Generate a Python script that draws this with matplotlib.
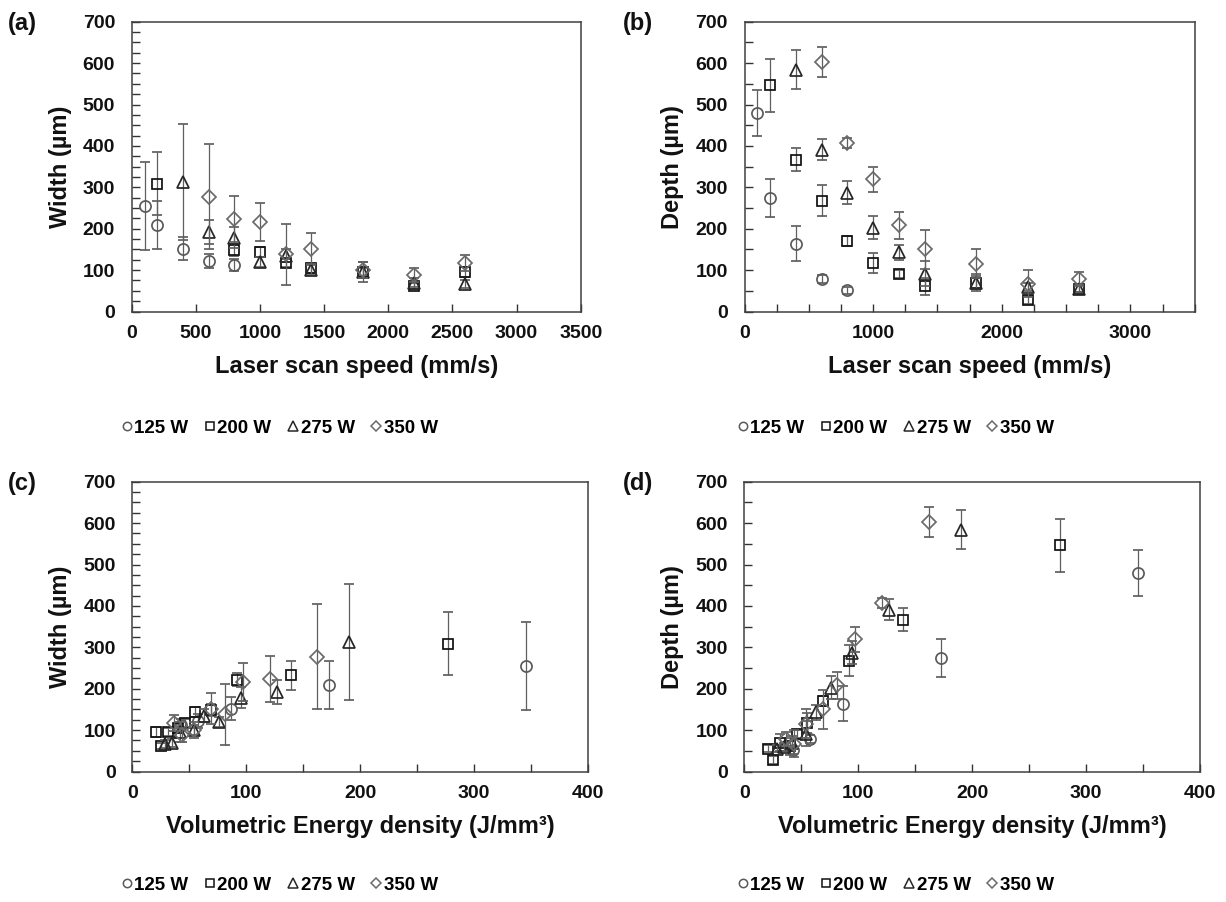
import numpy as np
import matplotlib
matplotlib.use('Agg')
import matplotlib.pyplot as plt
from matplotlib.ticker import MultipleLocator, NullLocator
from matplotlib.lines import Line2D
from matplotlib import font_manager

plt.rcParams['font.family'] = ['Liberation Sans', 'DejaVu Sans']
plt.rcParams['font.weight'] = 'bold'

# laser power series
powers = ['125 W', '200 W', '275 W', '350 W']

speed_125 = [100, 200, 400, 600, 800]
energy_125 = [346, 173, 87, 58, 43]
width_125 = [255, 210, 152, 121, 113]
width_err_125 = [107, 58, 27, 17, 14]
depth_125 = [480, 275, 164, 78, 51]
depth_err_125 = [55, 46, 42, 10, 8]

speed_200 = [200, 400, 600, 800, 1000, 1200, 1400, 1800, 2200, 2600]
energy_200 = [277, 139, 92, 69, 55, 46, 40, 31, 25, 21]
width_200 = [309, 232, 222, 148, 144, 117, 104, 95, 62, 95]
width_err_200 = [77, 35, 15, 15, 12, 10, 10, 10, 8, 12]
depth_200 = [546, 367, 268, 170, 117, 91, 61, 70, 27, 55]
depth_err_200 = [64, 27, 38, 12, 25, 10, 20, 20, 10, 8]
# the two 200 W points that are not shown in panel (a)
missing_in_a_200 = [400, 600]

speed_275 = [400, 600, 800, 1000, 1200, 1400, 1800, 2200, 2600]
energy_275 = [190, 127, 95, 76, 63, 54, 42, 35, 29]
width_275 = [313, 192, 178, 119, 135, 100, 95, 70, 67]
width_err_275 = [140, 30, 25, 12, 15, 12, 24, 10, 10]
depth_275 = [584, 391, 287, 202, 143, 91, 70, 59, 55]
depth_err_275 = [47, 25, 28, 28, 18, 30, 15, 10, 8]

speed_350 = [600, 800, 1000, 1200, 1400, 1800, 2200, 2600]
energy_350 = [162, 121, 97, 81, 69, 54, 44, 37]
width_350 = [277, 223, 216, 138, 152, 100, 88, 117]
width_err_350 = [127, 56, 46, 74, 37, 20, 17, 19]
depth_350 = [603, 408, 319, 208, 150, 115, 67, 79]
depth_err_350 = [36, 12, 31, 32, 47, 35, 33, 17]

series = [
    (speed_125, energy_125, width_125, width_err_125, depth_125, depth_err_125, []),
    (speed_200, energy_200, width_200, width_err_200, depth_200, depth_err_200, missing_in_a_200),
    (speed_275, energy_275, width_275, width_err_275, depth_275, depth_err_275, []),
    (speed_350, energy_350, width_350, width_err_350, depth_350, depth_err_350, []),
]

markers = ['o', 's', '^', 'D']
edge_colors = ['#5a5a5a', '#111111', '#262626', '#6a6a6a']
marker_sizes = [8.0, 7.8, 8.8, 6.8]
err_color = '#5f5f5f'

names = {f.name for f in font_manager.fontManager.ttflist}
if 'Liberation Sans Narrow' in names:
    leg_font = dict(family='Liberation Sans Narrow', weight='bold', size=15.5)
else:
    leg_font = dict(family='Liberation Sans', weight='bold', size=13.5)

W, H = 1226, 902
fig = plt.figure(figsize=(W / 100, H / 100), dpi=100)


def add_axes_px(left, top, right, bottom):
    return fig.add_axes([left / W, 1 - bottom / H, (right - left) / W, (bottom - top) / H])


def style_axes(ax, xmax, xmajor, xminor, yminor):
    ax.set_xlim(0, xmax)
    ax.set_ylim(0, 700)
    ax.xaxis.set_major_locator(MultipleLocator(xmajor))
    if xminor:
        ax.xaxis.set_minor_locator(MultipleLocator(xminor))
    else:
        ax.xaxis.set_minor_locator(NullLocator())
    ax.yaxis.set_major_locator(MultipleLocator(100))
    ax.yaxis.set_minor_locator(MultipleLocator(yminor))
    ax.tick_params(which='both', direction='in', length=5.5, width=1.0, color='#333333',
                   top=False, right=False)
    ax.tick_params(axis='y', labelsize=14, pad=12, labelcolor='#111111')
    ax.tick_params(axis='x', labelsize=14, pad=10, labelcolor='#111111')
    for sp in ax.spines.values():
        sp.set_color('#404040')
        sp.set_linewidth(1.1)


def draw(ax, xi, yi, ei, panel_a=False):
    for k, s in enumerate(series):
        x = np.array(s[xi], dtype=float)
        y = np.array(s[yi], dtype=float)
        e = np.array(s[ei], dtype=float)
        keep = np.array([sp not in s[6] for sp in s[0]]) if panel_a else np.ones(len(x), bool)
        ax.errorbar(x[keep], y[keep], yerr=e[keep], fmt=markers[k], ms=marker_sizes[k],
                    mfc='none', mec=edge_colors[k], mew=1.25, ecolor=err_color,
                    elinewidth=0.9, capsize=3.6, capthick=0.9, zorder=3 + k)


def legend(ax, cx, cy):
    handles = [Line2D([], [], ls='none', marker=markers[k], mfc='none', mec=edge_colors[k],
                      ms=marker_sizes[k] * 0.75, mew=1.1) for k in range(4)]
    ax.legend(handles, powers, loc='center', bbox_to_anchor=(cx / W, 1 - cy / H),
              bbox_transform=fig.transFigure, ncol=4, frameon=False, handlelength=0.7,
              handletextpad=0.05, columnspacing=0.8, borderaxespad=0, borderpad=0,
              prop=leg_font)


def labels(ax, xlabel, ylabel, label_x, axes_left, axes_right, axes_bottom):
    ax.set_xlabel(xlabel, fontsize=17, fontweight='bold', color='#111111')
    ax.set_ylabel(ylabel, fontsize=17, fontweight='bold', color='#111111')
    ax.xaxis.label.set_va('center')
    ax.yaxis.label.set_va('center')
    ax.xaxis.set_label_coords(0.5, -54.5 / 289.8)
    ax.yaxis.set_label_coords((label_x - axes_left) / (axes_right - axes_left), 0.5)


# (a) width vs speed
ax_a = add_axes_px(131.7, 21.7, 580.7, 311.5)
style_axes(ax_a, 3500, 500, None, 25)
draw(ax_a, 0, 2, 3, panel_a=True)
labels(ax_a, 'Laser scan speed (mm/s)', 'Width (\u00b5m)', 60, 131.7, 580.7, 311.5)
legend(ax_a, 279, 428)

# (b) depth vs speed
ax_b = add_axes_px(744.5, 21.7, 1194.8, 311.5)
style_axes(ax_b, 3500, 1000, 250, 50)
ax_b.set_xticks([0, 1000, 2000, 3000])
draw(ax_b, 0, 4, 5)
labels(ax_b, 'Laser scan speed (mm/s)', 'Depth (\u00b5m)', 672, 744.5, 1194.8, 311.5)
legend(ax_b, 895, 428)

# (c) width vs energy density
ax_c = add_axes_px(132.3, 481.7, 588.0, 771.5)
style_axes(ax_c, 400, 100, 50, 25)
draw(ax_c, 1, 2, 3)
labels(ax_c, 'Volumetric Energy density (J/mm\u00b3)', 'Width (\u00b5m)', 60, 132.3, 588.0, 771.5)
legend(ax_c, 279, 885)

# (d) depth vs energy density
ax_d = add_axes_px(744.3, 481.7, 1199.8, 771.5)
style_axes(ax_d, 400, 100, 50, 50)
draw(ax_d, 1, 4, 5)
labels(ax_d, 'Volumetric Energy density (J/mm\u00b3)', 'Depth (\u00b5m)', 672, 744.3, 1199.8, 771.5)
legend(ax_d, 895, 885)

for tag, x, y in [('(a)', 8, 12), ('(b)', 623, 12), ('(c)', 8, 472), ('(d)', 623, 472)]:
    fig.text(x / W, 1 - y / H, tag, fontsize=17, fontweight='bold', va='top', ha='left',
             color='#111111')

fig.savefig('out.png', dpi=100)
